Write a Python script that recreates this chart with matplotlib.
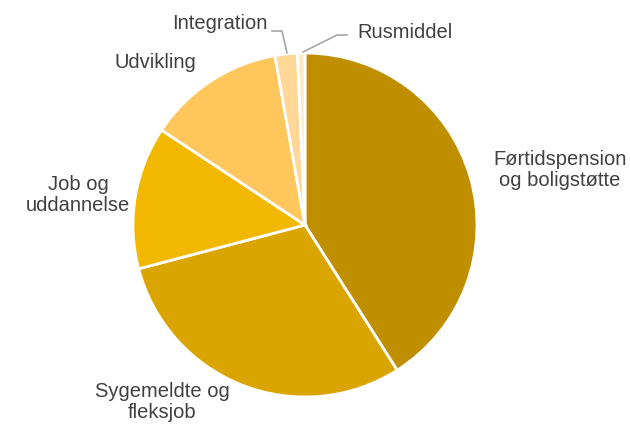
import matplotlib
matplotlib.use("Agg")
import matplotlib.pyplot as plt

categories = ["Førtidspension\nog boligstøtte", "Sygemeldte og\nfleksjob", "Job og\nuddannelse",
              "Udvikling", "Integration", "Rusmiddel"]
values = [41.0, 29.9, 13.4, 12.9, 2.1, 0.7]
colors = ["#BF8F00", "#DAA500", "#F2B800", "#FFC65C", "#FFD796", "#FFE9C4"]

W, H = 630, 424
fig = plt.figure(figsize=(W / 100, H / 100), dpi=100)
cx, cy, r = 305, 225, 172
ax = fig.add_axes([(cx - r) / W, (H - cy - r) / H, 2 * r / W, 2 * r / H])
wedges, _ = ax.pie(values, colors=colors, startangle=90, counterclock=False, radius=1,
                   wedgeprops=dict(edgecolor="white", linewidth=2))
ax.set_xlim(-1, 1)
ax.set_ylim(-1, 1)
ax.set_aspect("equal")
ax.axis("off")

def px(x, y):
    return ((x - cx) / r, (cy - y) / r)

tcolor = "#404040"
fs = 14.5
kw = dict(color=tcolor, fontsize=fs, family="Liberation Sans", ha="center", va="center",
          linespacing=1.1, annotation_clip=False)

ax.annotate(categories[0], xy=px(560, 170), **kw)
ax.annotate(categories[1], xy=px(162, 402), **kw)
ax.annotate(categories[2], xy=px(78, 195), **kw)
ax.annotate(categories[3], xy=px(155, 62), **kw)
ax.annotate(categories[4], xy=px(220, 23), **kw)
ax.annotate(categories[5], xy=px(405, 32), **kw)

lc = "#A6A6A6"
for pts in [[(272, 31), (282, 31), (287, 53)], [(347, 35), (337, 35), (303, 52)]]:
    xs, ys = zip(*[px(*p) for p in pts])
    ax.plot(xs, ys, color=lc, lw=1.2, clip_on=False)

fig.savefig("out.png", dpi=100)
